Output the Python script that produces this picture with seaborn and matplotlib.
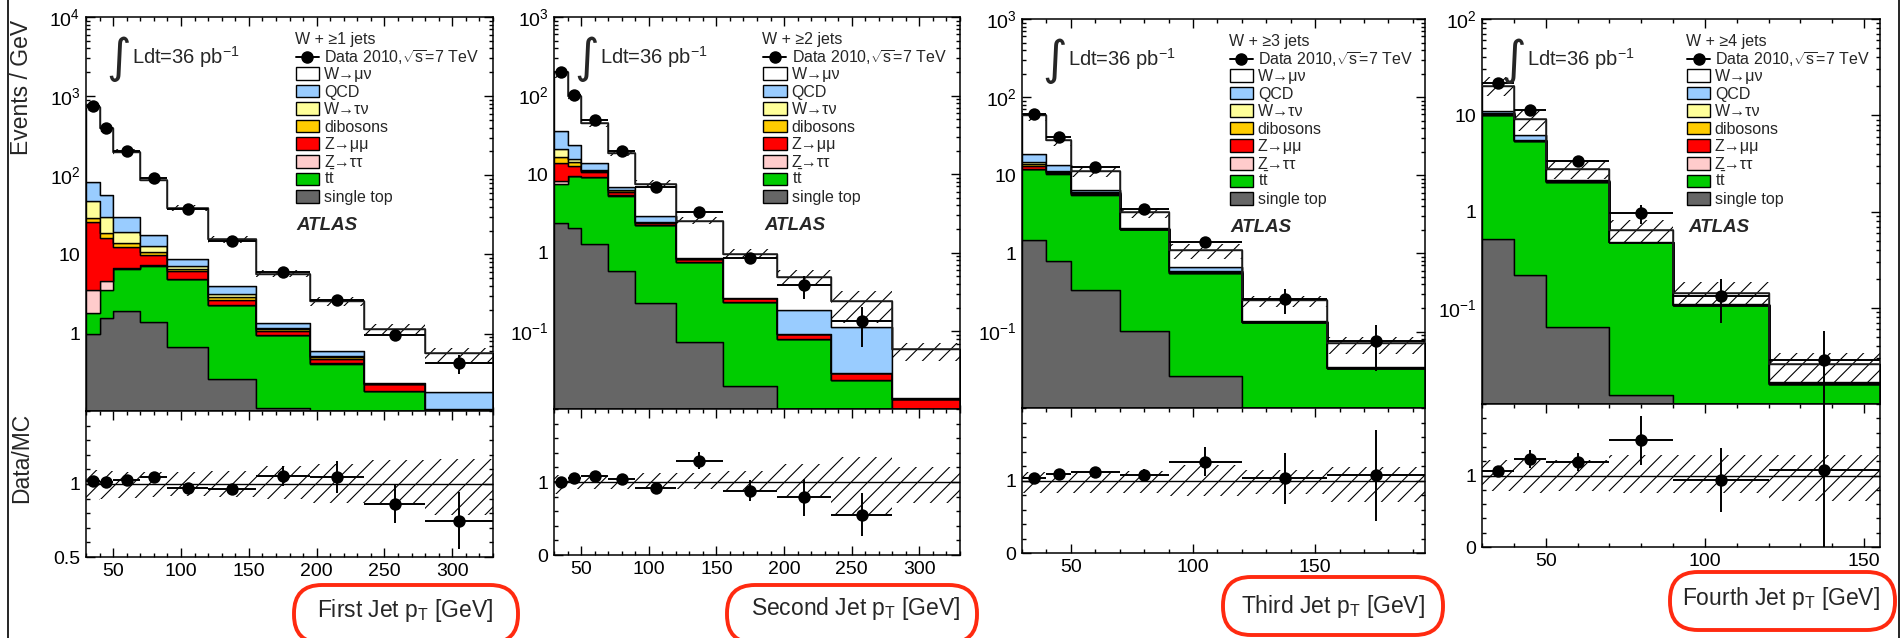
import numpy as np
import pandas as pd
import matplotlib
matplotlib.use("Agg")
import matplotlib.pyplot as plt
import seaborn as sns
from matplotlib.patches import Rectangle, FancyBboxPatch
from matplotlib.lines import Line2D
from matplotlib.transforms import IdentityTransform
from matplotlib.ticker import (FixedLocator, MultipleLocator, LogLocator,
                               FuncFormatter, NullFormatter)

# ---------------- binning (GeV) ----------------
edges_j1 = [30, 40, 50, 70, 90, 120, 155, 195, 235, 280, 330]
edges_j2 = [30, 40, 50, 70, 90, 120, 155, 195, 235, 280, 330]
edges_j3 = [30, 40, 50, 70, 90, 120, 155, 195]
edges_j4 = [30, 40, 50, 70, 90, 120, 155]

# ---------------- processes (stack order: top first, bottom last) ----------------
process_keys = ["wmunu", "qcd", "wtaunu", "diboson", "zmumu", "ztautau", "ttbar", "stop"]
process_labels = ["W→μν", "QCD", "W→τν", "dibosons", "Z→μμ", "Z→ττ",
                  r"$\mathregular{t\bar{t}}$", "single top"]
process_colors = ["#ffffff", "#99ccff", "#ffff99", "#ffcc00", "#ff0000",
                  "#ffcccc", "#00cc00", "#666666"]

# ---------------- W + >=1 jets : first jet pT (events / GeV) ----------------
j1_data = [740, 401, 203, 91.6, 37.5, 14.9, 6.03, 2.69, 0.97, 0.42]
j1_data_err = [7.4, 6.0, 3.0, 1.8, 0.94, 0.52, 0.40, 0.28, 0.145, 0.11]
j1_wmunu = [644, 339, 168, 69.8, 29.9, 11.5, 4.38, 1.97, 0.89, 0.377]
j1_qcd = [35.8, 27.0, 10.5, 4.8, 1.55, 0.85, 0.15, 0.073, 0.001, 0.071]
j1_wtaunu = [18.7, 10.6, 5.4, 2.2, 0.5, 0.21, 0.06, 0.021, 0.001, 0.002]
j1_diboson = [2.7, 2.9, 1.7, 0.8, 0.5, 0.22, 0.05, 0.023, 0.005, 0.005]
j1_zmumu = [22.4, 11.3, 5.5, 2.5, 1.15, 0.39, 0.12, 0.063, 0.038, 0.02]
j1_ztautau = [1.71, 1.0, 0.35, 0.1, 0.03, 0.02, 0.01, 0.003, 0.002, 0.005]
j1_ttbar = [0.83, 2.05, 4.53, 5.82, 4.24, 2.01, 0.834, 0.367, 0.158, 0.06]
j1_stop = [1.0, 1.55, 1.92, 1.38, 0.68, 0.27, 0.116, 0.05, 0.03, 0.02]
j1_unc_up = [0.094, 0.09, 0.085, 0.085, 0.085, 0.09, 0.12, 0.14, 0.165, 0.17]
j1_unc_dn = [0.107, 0.10, 0.095, 0.09, 0.085, 0.09, 0.10, 0.13, 0.13, 0.21]

# ---------------- W + >=2 jets : second jet pT ----------------
j2_data = [199, 103, 48.6, 19.6, 6.9, 3.32, 0.847, 0.384, 0.135, np.nan]
j2_data_err = [3.0, 2.1, 1.2, 0.6, 0.35, 0.30, 0.135, 0.125, 0.072, np.nan]
j2_wmunu = [164, 74.2, 31.0, 11.9, 4.6, 1.72, 0.695, 0.301, 0.131, 0.0454]
j2_qcd = [13.9, 7.8, 2.5, 0.48, 0.45, 0.002, 0.001, 0.0925, 0.0836, 0.0001]
j2_wtaunu = [4.6, 1.5, 0.3, 0.1, 0.02, 0.003, 0.0005, 0.0005, 0.0002, 0.0001]
j2_diboson = [2.7, 1.5, 0.5, 0.29, 0.04, 0.005, 0.001, 0.0003, 0.0001, 0.0001]
j2_zmumu = [5.8, 3.1, 1.4, 0.58, 0.14, 0.07, 0.026, 0.0122, 0.0057, 0.0087]
j2_ztautau = [0.7, 0.06, 0.05, 0.03, 0.02, 0.002, 0.001, 0.0005, 0.0002, 0.0001]
j2_ttbar = [5.04, 7.36, 7.84, 4.77, 2.02, 0.694, 0.2155, 0.074, 0.0208, 0.004]
j2_stop = [2.36, 2.08, 1.31, 0.585, 0.227, 0.074, 0.0205, 0.005, 0.003, 0.001]
j2_unc_up = [0.09, 0.08, 0.08, 0.08, 0.12, 0.12, 0.15, 0.24, 0.34, 0.20]
j2_unc_dn = [0.16, 0.10, 0.10, 0.10, 0.09, 0.10, 0.12, 0.22, 0.47, 0.29]

# ---------------- W + >=3 jets : third jet pT ----------------
j3_data = [61.3, 30.9, 12.8, 3.68, 1.38, 0.258, 0.0767]
j3_data_err = [1.8, 1.2, 0.64, 0.30, 0.22, 0.088, 0.045]
j3_wmunu = [40.6, 14.6, 4.97, 1.33, 0.42, 0.116, 0.037]
j3_qcd = [4.0, 2.3, 0.40, 0.01, 0.085, 0.001, 0.0001]
j3_wtaunu = [0.6, 0.15, 0.05, 0.005, 0.003, 0.0005, 0.0001]
j3_diboson = [0.8, 0.25, 0.1, 0.01, 0.005, 0.001, 0.0002]
j3_zmumu = [1.2, 0.45, 0.2, 0.035, 0.015, 0.001, 0.0002]
j3_ztautau = [0.1, 0.05, 0.02, 0.005, 0.002, 0.0005, 0.0001]
j3_ttbar = [10.4, 9.7, 5.32, 1.92, 0.539, 0.126, 0.032]
j3_stop = [1.48, 0.806, 0.34, 0.103, 0.0273, 0.005, 0.002]
j3_unc_up = [0.12, 0.12, 0.13, 0.13, 0.22, 0.15, 0.18]
j3_unc_dn = [0.17, 0.17, 0.17, 0.17, 0.22, 0.19, 0.29]

# ---------------- W + >=4 jets : fourth jet pT ----------------
j4_data = [21.5, 11.4, 3.32, 0.96, 0.135, 0.0286]
j4_data_err = [1.08, 1.2, 0.365, 0.22, 0.065, 0.0286]
j4_wmunu = [9.2, 3.0, 0.68, 0.155, 0.036, 0.0094]
j4_qcd = [0.5, 0.65, 0.02, 0.002, 0.001, 0.0005]
j4_wtaunu = [0.1, 0.02, 0.01, 0.001, 0.0002, 0.0001]
j4_diboson = [0.2, 0.05, 0.02, 0.001, 0.0003, 0.0001]
j4_zmumu = [0.25, 0.05, 0.02, 0.001, 0.0002, 0.0001]
j4_ztautau = [0.05, 0.01, 0.005, 0.001, 0.0002, 0.0001]
j4_ttbar = [9.48, 5.25, 1.97, 0.47, 0.104, 0.0152]
j4_stop = [0.521, 0.218, 0.064, 0.0125, 0.003, 0.001]
j4_unc_up = [0.22, 0.22, 0.22, 0.28, 0.29, 0.28]
j4_unc_dn = [0.21, 0.25, 0.22, 0.24, 0.25, 0.36]

panel_titles = ["W + ≥1 jets", "W + ≥2 jets", "W + ≥3 jets", "W + ≥4 jets"]
panel_xlabels = [r"First Jet p$_{\mathregular{T}}$ [GeV]",
                 r"Second Jet p$_{\mathregular{T}}$ [GeV]",
                 r"Third Jet p$_{\mathregular{T}}$ [GeV]",
                 r"Fourth Jet p$_{\mathregular{T}}$ [GeV]"]

# ---------------- style ----------------
sns.set_theme(style="ticks")
plt.rcParams["font.family"] = ["Liberation Sans", "DejaVu Sans"]
plt.rcParams["mathtext.fontset"] = "custom"
plt.rcParams["mathtext.rm"] = "Liberation Sans"
plt.rcParams["mathtext.it"] = "Liberation Sans:italic"
plt.rcParams["mathtext.bf"] = "Liberation Sans:bold"
plt.rcParams["hatch.linewidth"] = 0.8
plt.rcParams["hatch.color"] = "black"
plt.rcParams["axes.facecolor"] = "white"

W_PX, H_PX = 1902, 638
fig = plt.figure(figsize=(W_PX / 100, H_PX / 100), dpi=100)
fig.patch.set_facecolor("white")


def fig_rect(left, right, top, bottom):
    return [left / W_PX, 1 - bottom / H_PX, (right - left) / W_PX, (bottom - top) / H_PX]


def log_label(v, _pos):
    e = int(round(np.log10(v)))
    if e == 0:
        return "1"
    if e == 1:
        return "10"
    return r"$\mathregular{10^{%d}}$" % e


def style_axes(ax):
    ax.set_facecolor("white")
    ax.grid(False)
    for s in ax.spines.values():
        s.set_visible(True)
        s.set_linewidth(1.1)
        s.set_color("black")
    ax.tick_params(which="both", direction="in", top=True, right=True,
                   bottom=True, left=True, colors="black", labelsize=14, width=1.0)
    ax.tick_params(which="major", length=6.5, pad=4)
    ax.tick_params(which="minor", length=3.2)
    ax.xaxis.set_major_locator(MultipleLocator(50))
    ax.xaxis.set_minor_locator(MultipleLocator(10))
    ax.set_xlabel("")
    ax.set_ylabel("")


def legend_block(ax, title, ax_h_px):
    tr = ax.transAxes

    def yf(dy):
        return 1 - dy / ax_h_px

    fs = 11.5
    ax.text(0.513, yf(21.3 + 5.6), title, transform=tr, fontsize=fs,
            ha="left", va="baseline", zorder=10)
    ax.add_line(Line2D([0.516, 0.572], [yf(40.3)] * 2, transform=tr,
                       color="black", lw=1.4, zorder=10))
    ax.add_line(Line2D([0.544], [yf(40.3)], transform=tr, marker="o",
                       color="black", ms=8, zorder=10))
    ax.text(0.585, yf(40.3 + 5.6), r"Data 2010,$\mathregular{\sqrt{s}}$=7 TeV",
            transform=tr, fontsize=fs, ha="left", va="baseline", zorder=10)
    for i, (lab, col) in enumerate(zip(process_labels, process_colors)):
        dy = 56.3 + 17.6 * i
        ax.add_patch(Rectangle((0.516, yf(dy + 6.3)), 0.057, 12.6 / ax_h_px,
                               transform=tr, facecolor=col, edgecolor="black",
                               lw=1.0, zorder=10))
        ax.text(0.585, yf(dy + 5.6), lab, transform=tr, fontsize=fs,
                ha="left", va="baseline", zorder=10)
    ax.text(0.518, yf(207 + 6.5), "ATLAS", transform=tr, fontsize=13.5,
            fontweight="bold", fontstyle="italic", ha="left", va="baseline", zorder=10)
    # integrated luminosity label: tall integral sign followed by the text
    ax.text(0.111, yf(42), "∫", transform=tr, fontsize=34, family="DejaVu Sans",
            ha="right", va="center", zorder=10)
    ax.text(0.113, yf(40 + 7), r"Ldt=36 pb$^{\mathregular{-1}}$", transform=tr,
            fontsize=14.5, ha="left", va="baseline", zorder=10)


panels = [
    dict(edges=edges_j1, data=j1_data, err=j1_data_err,
         comps=[j1_wmunu, j1_qcd, j1_wtaunu, j1_diboson, j1_zmumu, j1_ztautau, j1_ttbar, j1_stop],
         up=j1_unc_up, dn=j1_unc_dn, ylim=(0.105, 1e4), rlim=(0.5, 1.5),
         rmajor=[0.5, 1.0], rminor=0.1, px=(86, 493, 17, 411, 557),
         box=(294, 518, 585, 643), xlab_y=617.5),
    dict(edges=edges_j2, data=j2_data, err=j2_data_err,
         comps=[j2_wmunu, j2_qcd, j2_wtaunu, j2_diboson, j2_zmumu, j2_ztautau, j2_ttbar, j2_stop],
         up=j2_unc_up, dn=j2_unc_dn, ylim=(0.0103, 1e3), rlim=(0.0, 2.0),
         rmajor=[0.0, 1.0], rminor=0.2, px=(554, 960, 17, 409, 555),
         box=(727, 977, 585, 643), xlab_y=614.5),
    dict(edges=edges_j3, data=j3_data, err=j3_data_err,
         comps=[j3_wmunu, j3_qcd, j3_wtaunu, j3_diboson, j3_zmumu, j3_ztautau, j3_ttbar, j3_stop],
         up=j3_unc_up, dn=j3_unc_dn, ylim=(0.0105, 1e3), rlim=(0.0, 2.0),
         rmajor=[0.0, 1.0], rminor=0.2, px=(1022, 1425, 19, 408, 553),
         box=(1223, 1443, 577, 635), xlab_y=612.5),
    dict(edges=edges_j4, data=j4_data, err=j4_data_err,
         comps=[j4_wmunu, j4_qcd, j4_wtaunu, j4_diboson, j4_zmumu, j4_ztautau, j4_ttbar, j4_stop],
         up=j4_unc_up, dn=j4_unc_dn, ylim=(0.0101, 1e2), rlim=(0.0, 2.0),
         rmajor=[0.0, 1.0], rminor=0.2, px=(1482, 1880, 19, 404, 547),
         box=(1670, 1895, 572, 630), xlab_y=605.5),
]

palette = dict(zip(process_keys, process_colors))

for k, p in enumerate(panels):
    edges = np.asarray(p["edges"], float)
    centers = 0.5 * (edges[:-1] + edges[1:])
    half = 0.5 * np.diff(edges)
    comps = [np.asarray(c, float) for c in p["comps"]]
    total = np.sum(comps, axis=0)
    data = np.asarray(p["data"], float)
    err = np.asarray(p["err"], float)
    up = np.asarray(p["up"], float)
    dn = np.asarray(p["dn"], float)
    left, right, top, mid, bottom = p["px"]

    # ---- upper pad: stacked MC with data ----
    ax = fig.add_axes(fig_rect(left, right, top, mid))
    frame = pd.DataFrame({
        "pt": np.tile(centers, len(process_keys)),
        "val": np.concatenate(comps),
        "proc": np.repeat(process_keys, len(centers)),
    })
    sns.histplot(data=frame, x="pt", weights="val", hue="proc",
                 hue_order=process_keys, palette=palette, multiple="stack",
                 bins=[float(e) for e in edges], element="step", fill=True, alpha=1,
                 edgecolor="black", linewidth=1.0, legend=False, ax=ax)
    ax.set_yscale("log")
    ax.stairs(total * (1 + up), edges, baseline=total * (1 - dn), fill=True,
              facecolor="none", edgecolor="black", hatch="//", linewidth=0, zorder=3)
    ax.stairs(total, edges, baseline=None, color="#222222", lw=1.1, zorder=3.5)
    lo = np.minimum(err, data * 0.9999)
    ax.errorbar(centers, data, xerr=half, yerr=[lo, err], fmt="none",
                ecolor="black", elinewidth=1.4, capsize=0, zorder=5)
    sns.scatterplot(x=centers, y=data, ax=ax, color="black", s=80,
                    edgecolor="black", linewidth=0, zorder=6, legend=False)
    ax.set_xlim(edges[0], edges[-1])
    ax.set_ylim(*p["ylim"])
    style_axes(ax)
    ax.yaxis.set_major_locator(LogLocator(base=10))
    ax.yaxis.set_minor_locator(LogLocator(base=10, subs=np.arange(2, 10)))
    ax.yaxis.set_major_formatter(FuncFormatter(log_label))
    ax.yaxis.set_minor_formatter(NullFormatter())
    ax.tick_params(axis="x", labelbottom=False)
    legend_block(ax, panel_titles[k], mid - top)

    # ---- lower pad: data / MC ----
    axr = fig.add_axes(fig_rect(left, right, mid, bottom))
    axr.stairs(1 + up, edges, baseline=1 - dn, fill=True, facecolor="none",
               edgecolor="black", hatch="//", linewidth=0, zorder=2)
    axr.axhline(1.0, color="black", lw=1.0, zorder=3)
    ratio = data / total
    rerr = err / total
    axr.errorbar(centers, ratio, xerr=half, yerr=rerr, fmt="none",
                 ecolor="black", elinewidth=1.4, capsize=0, zorder=5)
    sns.scatterplot(x=centers, y=ratio, ax=axr, color="black", s=80,
                    edgecolor="black", linewidth=0, zorder=6, legend=False)
    axr.set_xlim(edges[0], edges[-1])
    axr.set_ylim(*p["rlim"])
    style_axes(axr)
    axr.yaxis.set_major_locator(FixedLocator(p["rmajor"]))
    axr.yaxis.set_minor_locator(MultipleLocator(p["rminor"]))
    axr.yaxis.set_major_formatter(FuncFormatter(lambda v, _p: f"{v:g}"))

    # ---- axis title with rounded red frame ----
    fig.text(right / W_PX, 1 - p["xlab_y"] / H_PX, panel_xlabels[k],
             fontsize=16.5, ha="right", va="baseline")
    bx0, bx1, by_top, by_bot = p["box"]
    fig.patches.append(FancyBboxPatch(
        (bx0, H_PX - by_bot), bx1 - bx0, by_bot - by_top,
        boxstyle="round,pad=0,rounding_size=28", transform=IdentityTransform(),
        facecolor="none", edgecolor="#ff2a10", linewidth=2.8, figure=fig))

fig.text(22 / W_PX, 1 - 20 / H_PX, "Events / GeV", rotation=90, fontsize=16.5,
         ha="center", va="top")
fig.text(22 / W_PX, 1 - 413 / H_PX, "Data/MC", rotation=90, fontsize=16.5,
         ha="center", va="top")

# outer frame lines
for xp in (7.5, 1898.5):
    fig.add_artist(Line2D([xp / W_PX] * 2, [0, 1], transform=fig.transFigure,
                          color="black", lw=1.2))

fig.savefig("out.png", dpi=100, facecolor="white")
